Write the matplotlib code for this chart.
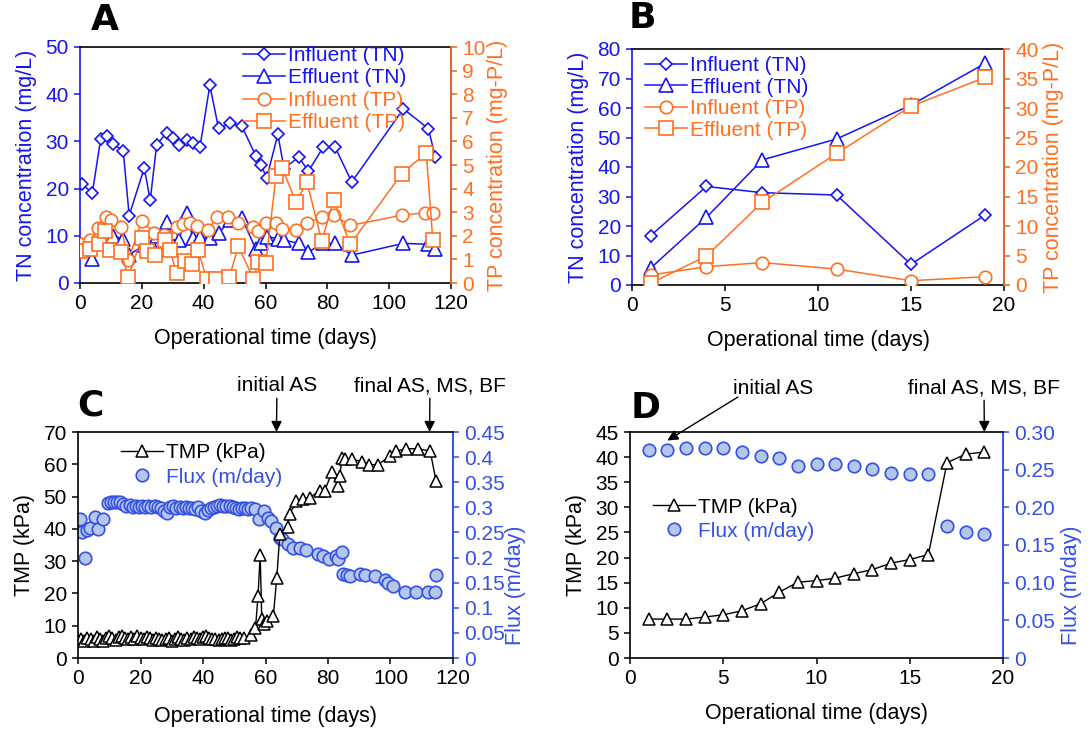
import matplotlib
matplotlib.use('Agg')
import matplotlib.pyplot as plt
from matplotlib.ticker import FixedLocator, FixedFormatter

plt.rcParams['font.family'] = ['Liberation Sans', 'DejaVu Sans']
plt.rcParams['font.size'] = 15

# ---------------- data ----------------
# Panel A
a_tn_days = [0.5, 4, 6.7, 8.6, 10.8, 14, 15.9, 20.8, 22.7, 24.8, 28, 30, 32, 34.5, 36.5, 38.8, 42, 44.8,
             48.5, 52.3, 56.8, 58.6, 60.4, 64, 66, 70.7, 73.9, 78.7, 82.5, 87.9, 104.6, 112.7, 114.9]
a_tn_inf = [21.0, 19.1, 30.6, 31.1, 29.5, 27.9, 14.3, 24.4, 17.5, 29.3, 31.8, 30.7, 29.2, 30.2, 29.7, 28.8,
            41.9, 32.8, 33.8, 33.3, 27.0, 24.9, 22.3, 31.5, 24.2, 26.7, 23.7, 28.8, 28.8, 21.4, 36.9, 32.7, 26.7]
a_tn_eff = [8.0, 5.0, 9.5, 10.3, 10.0, 9.3, 6.0, 8.0, 8.8, 10.0, 13.0, 10.5, 9.1, 14.8, 9.5, 9.8, 9.5,
            10.5, 13.3, 13.8, 7.3, 8.5, 9.8, 9.4, 9.1, 8.4, 6.6, 8.4, 8.4, 5.9, 8.4, 8.2, 7.2]
a_tp_inf_days = [0, 3.2, 5.7, 8.4, 9.9, 13.3, 15.6, 20, 24, 27.3, 31.3, 33.4, 35.6, 37.8, 41.5, 44.2, 48,
                 51.2, 55.9, 57.7, 60.1, 63.4, 65.3, 69.9, 73.4, 78.2, 82, 87.4, 104.1, 111.7, 114.1]
a_tp_inf = [1.64, 1.81, 2.34, 2.80, 2.66, 2.37, 0.96, 2.63, 2.12, 2.02, 2.37, 2.49, 2.54, 2.40, 2.26, 2.80,
            2.80, 2.54, 2.37, 2.20, 2.54, 2.54, 2.27, 2.26, 2.54, 2.80, 2.87, 2.44, 2.87, 2.98, 2.98]
a_tp_eff_days = [0, 3.2, 6, 8.1, 9.7, 13.3, 15.6, 20, 21.8, 24.3, 27.5, 29.1, 31.3, 34, 36.1, 38.1, 41, 44,
                 48.3, 51.2, 56.1, 57.7, 60.1, 63.4, 65.3, 69.9, 73.4, 78.2, 82, 87.4, 104.1, 112, 114.1]
a_tp_eff = [1.36, 1.45, 1.64, 2.20, 1.38, 1.31, 0.25, 1.92, 1.36, 1.20, 1.84, 1.38, 0.42, 0.92, 0.82, 1.41,
            0.18, 0.18, 0.25, 1.55, 0.18, 0.89, 0.85, 4.52, 4.89, 3.43, 4.28, 1.78, 3.50, 1.64, 4.63, 5.51, 1.84]

# Panel B
b_days = [1, 4, 7, 11, 15, 19]
b_tn_inf = [16.7, 33.4, 31.3, 30.5, 7.0, 23.8]
b_tn_eff = [5.7, 22.9, 42.4, 49.5, 61.0, 75.2]
b_tp_inf = [1.7, 3.1, 3.8, 2.7, 0.73, 1.4]
b_tp_eff = [0.3, 4.9, 14.0, 22.3, 30.3, 35.2]

# Panel C
c_tmp_days = [0, 1, 2, 3, 4, 5, 6, 7, 8, 9, 10, 11, 12, 13, 14, 15, 16, 17, 18, 19, 20, 21, 22, 23, 24, 25,
              26, 27, 28, 29, 30, 31, 32, 33, 34, 35, 36, 37, 38, 39, 40, 41, 42, 43, 44, 45, 46, 47, 48, 49,
              50, 51, 52, 53,
              55.5, 56.8, 57.6, 58.3, 58.8, 59.5, 60.5, 62.5, 63.6, 64.6, 67.2, 67.7, 69.9, 72, 74.1, 77.3,
              78.9, 81.3, 83.2, 83.7, 84.6, 85.4, 87.8, 91, 93.2, 96, 99.8, 101.9, 105.1, 108.8, 112.7, 114.6]
c_tmp = [5.5, 6.0, 5.2, 6.3, 5.8, 5.4, 6.6, 5.9, 5.3, 6.1, 6.8, 6.2, 5.7, 6.4, 6.9, 6.3, 5.8, 6.5, 6.0, 6.7,
         6.2, 5.9, 6.4, 6.1, 5.6, 6.3, 6.0, 5.5, 5.8, 6.2, 5.4, 5.9, 6.5, 6.0, 5.7, 6.3, 5.9, 6.6, 6.1, 5.8,
         6.4, 6.7, 6.2, 5.9, 6.0, 5.6, 5.8, 6.3, 6.1, 5.7, 6.0, 6.4, 6.2, 6.3,
         7.2, 9.3, 19.1, 32.0, 12.0, 10.5, 11.5, 12.9, 24.8, 38.5, 40.7, 44.6, 48.5, 49.1, 49.7, 51.7,
         51.7, 57.6, 53.3, 56.5, 61.9, 61.6, 61.6, 60.8, 59.9, 59.9, 62.5, 64.1, 64.8, 64.8, 64.1, 54.7]
c_flux_days = [0.5, 1.4, 2.1, 3.0, 3.7, 5.3, 6.4, 8.0,
               9.6, 10.5, 11.5, 12.5, 13.5, 14.5, 15.5, 16.5, 17.5, 18.5, 19.5, 20.5, 21.5, 22.5, 23.5,
               24.5, 25.5, 26.5, 27.5, 28.5, 29.5, 30.5, 31.5, 32.5, 33.5, 34.5, 35.5, 36.5, 37.5, 38.5,
               39.5, 40.5, 41.5, 42.5, 43.5, 44.5, 45.5, 46.5, 47.5, 48.5, 49.5, 50.5, 51.5, 52.5, 53.5,
               54.5, 55.5, 56.5,
               57.9, 59.4, 60.8, 61.9, 63.5, 64.5, 65.4, 67.2, 68.8, 70.9, 73, 76.8, 78.4, 80.3, 82.7, 83.2,
               84.6, 84.8, 86, 86.9, 90.1, 92, 94.9, 98.1, 99.2, 100.8, 104.5, 108.3, 112, 114.1, 114.5]
c_flux = [0.277, 0.250, 0.199, 0.255, 0.259, 0.281, 0.256, 0.277,
          0.309, 0.310, 0.311, 0.310, 0.310, 0.306, 0.303, 0.305, 0.301, 0.303, 0.301, 0.302, 0.301, 0.302,
          0.300, 0.302, 0.301, 0.298, 0.292, 0.288, 0.300, 0.302, 0.299, 0.300, 0.299, 0.300, 0.298, 0.299,
          0.297, 0.300, 0.293, 0.289, 0.295, 0.299, 0.301, 0.303, 0.304, 0.303, 0.302, 0.303, 0.300, 0.298,
          0.297, 0.299, 0.298, 0.297, 0.298, 0.296,
          0.277, 0.292, 0.279, 0.272, 0.259, 0.239, 0.236, 0.226, 0.219, 0.219, 0.215, 0.208, 0.203, 0.198,
          0.203, 0.198, 0.211, 0.168, 0.166, 0.163, 0.168, 0.166, 0.163, 0.155, 0.150, 0.143, 0.132, 0.132,
          0.132, 0.132, 0.166]

# Panel D
d_days = [1, 2, 3, 4, 5, 6, 7, 8, 9, 10, 11, 12, 13, 14, 15, 16, 17, 18, 19]
d_tmp = [7.75, 7.75, 7.75, 8.15, 8.6, 9.4, 10.8, 13.1, 15.1, 15.4, 15.9, 16.8, 17.6, 18.9, 19.6, 20.6,
         38.9, 40.6, 41.0]
d_flux = [0.276, 0.276, 0.279, 0.279, 0.279, 0.274, 0.268, 0.265, 0.255, 0.257, 0.258, 0.255, 0.251,
          0.246, 0.244, 0.244, 0.175, 0.167, 0.165]

c_flux_ticks = [0, 0.05, 0.1, 0.15, 0.2, 0.25, 0.3, 0.35, 0.4, 0.45]
c_flux_labels = ['0', '0.05', '0.1', '0.15', '0.2', '0.25', '0.3', '0.35', '0.4', '0.45']
d_flux_ticks = [0, 0.05, 0.1, 0.15, 0.2, 0.25, 0.3]
d_flux_labels = ['0', '0.05', '0.10', '0.15', '0.20', '0.25', '0.30']

# ---------------- style ----------------
BLUE = '#1515F0'
ORANGE = '#FF7020'
ORANGE_SP = '#D8672A'
FBLUE = '#3550E6'
FFACE = '#B4C7EA'
W, H = 1092, 729

fig = plt.figure(figsize=(W / 100, H / 100), dpi=100)


def px_axes(x0, y0, x1, y1):
    return fig.add_axes([x0 / W, 1 - y1 / H, (x1 - x0) / W, (y1 - y0) / H])


def style(ax, ax2, lcol, rcol):
    for a in (ax, ax2):
        a.tick_params(direction='out', length=4, width=1.1, pad=4, labelsize=15)
    ax.spines['right'].set_visible(False)
    ax2.spines['left'].set_visible(False)
    ax2.spines['bottom'].set_visible(False)
    ax2.spines['top'].set_visible(False)
    ax.spines['left'].set_color(lcol)
    ax2.spines['right'].set_color(rcol)
    for s in ('left', 'bottom', 'top'):
        ax.spines[s].set_linewidth(1.2)
    ax2.spines['right'].set_linewidth(1.4)
    ax.spines['bottom'].set_color('black')
    ax.spines['top'].set_color('black')
    ax.tick_params(axis='y', colors=lcol, labelcolor=lcol)
    ax2.tick_params(axis='y', colors=rcol, labelcolor=rcol)
    ax.tick_params(axis='x', colors='black')


MK = dict(mfc='white', mew=1.2, lw=1.1)

# ---------- Panel A ----------
axA = px_axes(80, 47, 451, 283)
axA2 = axA.twinx()
style(axA, axA2, BLUE, ORANGE_SP)
axA2.tick_params(axis='y', labelcolor=ORANGE)
l1, = axA.plot(a_tn_days, a_tn_inf, '-', color=BLUE, marker='D', ms=6.5, mec=BLUE, **MK)
l2, = axA.plot(a_tn_days, a_tn_eff, '-', color=BLUE, marker='^', ms=9.5, mec=BLUE, **MK)
l3, = axA2.plot(a_tp_inf_days, a_tp_inf, '-', color=ORANGE, marker='o', ms=9, mec=ORANGE, **MK)
l4, = axA2.plot(a_tp_eff_days, a_tp_eff, '-', color=ORANGE, marker='s', ms=9.5, mec=ORANGE, **MK)
axA.set_xlim(0, 120)
axA.set_ylim(0, 50)
axA2.set_ylim(0, 10)
axA.set_xticks([0, 20, 40, 60, 80, 100, 120])
axA.set_yticks([0, 10, 20, 30, 40, 50])
axA2.set_yticks(list(range(0, 11)))
axA.set_xlabel('Operational time (days)', fontsize=15.5, labelpad=11)
axA.set_ylabel('TN concentration (mg/L)', fontsize=15.5, color=BLUE, labelpad=6)
axA2.set_ylabel('TP concentration (mg-P/L)', fontsize=15.5, color=ORANGE, labelpad=1)
axA2.legend([l1, l2, l3, l4], ['Influent (TN)', 'Effluent (TN)', 'Influent (TP)', 'Effluent (TP)'],
            loc='upper left', bbox_to_anchor=(0.44, 1.005), frameon=False, fontsize=15,
            labelcolor=[BLUE, BLUE, ORANGE, ORANGE], handlelength=2.0, handletextpad=0.15,
            labelspacing=0.17, borderpad=0, borderaxespad=0)

# ---------- Panel B ----------
axB = px_axes(632, 49, 1004, 285)
axB2 = axB.twinx()
style(axB, axB2, BLUE, ORANGE_SP)
axB2.tick_params(axis='y', labelcolor=ORANGE)
m1, = axB.plot(b_days, b_tn_inf, '-', color=BLUE, marker='D', ms=6.5, mec=BLUE, **MK)
m2, = axB.plot(b_days, b_tn_eff, '-', color=BLUE, marker='^', ms=9.5, mec=BLUE, **MK)
m3, = axB2.plot(b_days, b_tp_inf, '-', color=ORANGE, marker='o', ms=9, mec=ORANGE, **MK)
m4, = axB2.plot(b_days, b_tp_eff, '-', color=ORANGE, marker='s', ms=9.5, mec=ORANGE, **MK)
axB.set_xlim(0, 20)
axB.set_ylim(0, 80)
axB2.set_ylim(0, 40)
axB.set_xticks([0, 5, 10, 15, 20])
axB.set_yticks(list(range(0, 81, 10)))
axB2.set_yticks(list(range(0, 41, 5)))
axB.set_xlabel('Operational time (days)', fontsize=15.5, labelpad=11)
axB.set_ylabel('TN concentration (mg/L)', fontsize=15.5, color=BLUE, labelpad=6)
axB2.set_ylabel('TP concentration (mg-P/L)', fontsize=15.5, color=ORANGE, labelpad=3)
axB2.legend([m1, m2, m3, m4], ['Influent (TN)', 'Effluent (TN)', 'Influent (TP)', 'Effluent (TP)'],
            loc='upper left', bbox_to_anchor=(0.035, 0.97), frameon=False, fontsize=15,
            labelcolor=[BLUE, BLUE, ORANGE, ORANGE], handlelength=2.0, handletextpad=0.15,
            labelspacing=0.12, borderpad=0, borderaxespad=0)

# ---------- Panel C ----------
axC = px_axes(78, 432, 453, 658)
axC2 = axC.twinx()
style(axC, axC2, 'black', FBLUE)
n2, = axC2.plot(c_flux_days, c_flux, 'o', ms=9, mfc=FFACE, mec=FBLUE, mew=1.2, zorder=2)
axC.set_zorder(axC2.get_zorder() + 1)
axC.patch.set_visible(False)
n1, = axC.plot(c_tmp_days, c_tmp, '-', color='black', lw=1.0, marker='^', ms=8.5, mfc='white', mec='black', mew=1.1)
axC.set_xlim(0, 120)
axC.set_ylim(0, 70)
axC2.set_ylim(0, 0.45)
axC.set_xticks([0, 20, 40, 60, 80, 100, 120])
axC.set_yticks(list(range(0, 71, 10)))
axC2.yaxis.set_major_locator(FixedLocator(c_flux_ticks))
axC2.yaxis.set_major_formatter(FixedFormatter(c_flux_labels))
axC.set_xlabel('Operational time (days)', fontsize=15.5, labelpad=13)
axC.set_ylabel('TMP (kPa)', fontsize=15.5, labelpad=6)
axC2.set_ylabel('Flux (m/day)', fontsize=15.5, color=FBLUE)
axC2.yaxis.set_label_coords(1.14, 0.32)
axC.legend([n1, n2], ['TMP (kPa)', 'Flux (m/day)'], loc='upper left', bbox_to_anchor=(0.115, 0.95),
           frameon=False, fontsize=15, labelcolor=['black', FBLUE], handlelength=2.0, handletextpad=0.15,
           labelspacing=0.25, borderpad=0, borderaxespad=0)

# ---------- Panel D ----------
axD = px_axes(630, 432, 1003, 658)
axD2 = axD.twinx()
style(axD, axD2, 'black', FBLUE)
p2, = axD2.plot(d_days, d_flux, 'o', ms=9, mfc=FFACE, mec=FBLUE, mew=1.2)
axD.set_zorder(axD2.get_zorder() + 1)
axD.patch.set_visible(False)
p1, = axD.plot(d_days, d_tmp, '-', color='black', lw=1.0, marker='^', ms=9, mfc='white', mec='black', mew=1.1)
axD.set_xlim(0, 20)
axD.set_ylim(0, 45)
axD2.set_ylim(0, 0.30)
axD.set_xticks([0, 5, 10, 15, 20])
axD.set_yticks(list(range(0, 46, 5)))
axD2.yaxis.set_major_locator(FixedLocator(d_flux_ticks))
axD2.yaxis.set_major_formatter(FixedFormatter(d_flux_labels))
axD.set_xlabel('Operational time (days)', fontsize=15.5, labelpad=11)
axD.set_ylabel('TMP (kPa)', fontsize=15.5, labelpad=6)
axD2.set_ylabel('Flux (m/day)', fontsize=15.5, color=FBLUE)
axD2.yaxis.set_label_coords(1.155, 0.32)
axD.legend([p1, p2], ['TMP (kPa)', 'Flux (m/day)'], loc='upper left', bbox_to_anchor=(0.063, 0.71),
           frameon=False, fontsize=15, labelcolor=['black', FBLUE], handlelength=2.0, handletextpad=0.15,
           labelspacing=0.25, borderpad=0, borderaxespad=0)

# ---------- panel letters ----------
for txt, (x, y) in {'A': (105, 20), 'B': (642, 18), 'C': (90, 405), 'D': (646, 408)}.items():
    fig.text(x / W, 1 - y / H, txt, fontsize=26, fontweight='bold', family='DejaVu Sans',
             ha='center', va='center')

# ---------- annotations ----------
arrow = dict(arrowstyle='-|>', color='black', lw=1.0, mutation_scale=16, shrinkA=0, shrinkB=0)


def fpt(x, y):
    return (x / W, 1 - y / H)


axC.annotate('initial AS', xy=(63.5, 70), xycoords='data', xytext=fpt(277, 386), textcoords='figure fraction',
             ha='center', va='center', fontsize=15, arrowprops=arrow, annotation_clip=False)
axC.annotate('final AS, MS, BF', xy=(112.5, 70), xycoords='data', xytext=fpt(430, 386),
             textcoords='figure fraction', ha='center', va='center', fontsize=15, arrowprops=arrow,
             annotation_clip=False)
axD.annotate('initial AS', xy=(2.0, 43.3), xycoords='data', xytext=fpt(773, 388), textcoords='figure fraction',
             ha='center', va='center', fontsize=15, annotation_clip=False)
axD.annotate('', xy=(2.0, 43.3), xycoords='data', xytext=fpt(738, 397), textcoords='figure fraction',
             arrowprops=arrow, annotation_clip=False)
axD.annotate('final AS, MS, BF', xy=(19.0, 45), xycoords='data', xytext=fpt(984, 388),
             textcoords='figure fraction', ha='center', va='center', fontsize=15, arrowprops=arrow,
             annotation_clip=False)

fig.savefig('out.png', dpi=100)
